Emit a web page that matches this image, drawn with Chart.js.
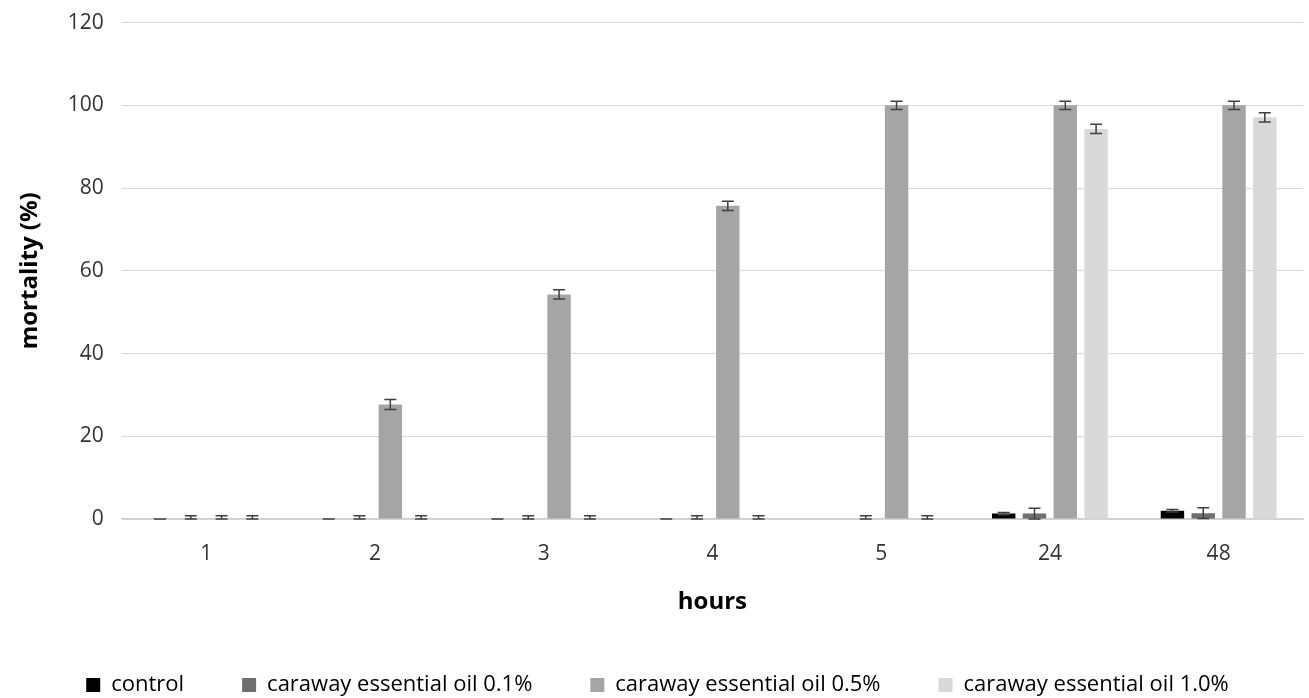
<!DOCTYPE html>
<html lang="en">
<head>
    <meta charset="UTF-8">
    <title>Mortality chart</title>
    <script src="https://cdn.jsdelivr.net/npm/chart.js"></script>
    <style>
        html, body {
            margin: 0;
            padding: 0;
            background: #fff;
            overflow: hidden;
        }
        .chart-container {
            position: relative;
            top: -8px;
            width: 1309px;
            height: 706px;
        }
    </style>
</head>
<body>
    <div class="chart-container">
        <canvas id="mortalityChart"></canvas>
    </div>
    <script>
        // categories (hours)
        const hours = ['1', '2', '3', '4', '5', '24', '48'];

        // series values (mortality %)
        const control = [0, 0, 0, 0, 0, 1.3, 2];
        const oil01 = [0, 0, 0, 0, 0, 1.3, 1.4];
        const oil05 = [0, 27.7, 54.3, 75.7, 100, 100, 100];
        const oil10 = [0, 0, 0, 0, 0, 94.3, 97.1];

        // error bar half-widths
        const controlErr = [0, 0, 0, 0, null, 0.3, 0.3];
        const oil01Err = [0.8, 0.8, 0.8, 0.8, 0.8, 1.3, 1.3];
        const oil05Err = [0.8, 1.2, 1.1, 1.1, 1, 1, 1];
        const oil10Err = [0.8, 0.8, 0.8, 0.8, 0.8, 1.1, 1.1];

        const yTicks = [0, 20, 40, 60, 80, 100, 120];

        // draws the error bars through the y scale
        const errorBars = {
            id: 'errorBars',
            afterDatasetsDraw(chart) {
                const ctx = chart.ctx;
                const y = chart.scales.y;
                ctx.save();
                ctx.strokeStyle = '#404040';
                ctx.lineWidth = 1.5;
                chart.data.datasets.forEach((ds, i) => {
                    const meta = chart.getDatasetMeta(i);
                    meta.data.forEach((bar, j) => {
                        const err = ds.errors[j];
                        if (err === null || err === undefined) return;
                        const v = ds.data[j];
                        const top = y.getPixelForValue(v + err);
                        const bottom = y.getPixelForValue(Math.max(0, v - err));
                        const half = 6;
                        ctx.beginPath();
                        ctx.moveTo(bar.x, top);
                        ctx.lineTo(bar.x, bottom);
                        ctx.moveTo(bar.x - half, top);
                        ctx.lineTo(bar.x + half, top);
                        ctx.moveTo(bar.x - half, bottom);
                        ctx.lineTo(bar.x + half, bottom);
                        ctx.stroke();
                    });
                });
                ctx.restore();
            }
        };

        const ctx = document.getElementById('mortalityChart').getContext('2d');
        new Chart(ctx, {
            type: 'bar',
            data: {
                labels: hours,
                datasets: [
                    { label: 'control', data: control, errors: controlErr, backgroundColor: '#000000' },
                    { label: 'caraway essential oil 0.1%', data: oil01, errors: oil01Err, backgroundColor: '#6f6f6f' },
                    { label: 'caraway essential oil 0.5%', data: oil05, errors: oil05Err, backgroundColor: '#a5a5a5' },
                    { label: 'caraway essential oil 1.0%', data: oil10, errors: oil10Err, backgroundColor: '#d9d9d9' }
                ]
            },
            plugins: [errorBars],
            options: {
                responsive: true,
                maintainAspectRatio: false,
                animation: false,
                layout: {
                    padding: { left: 12, right: 6, top: -6, bottom: -8 }
                },
                datasets: {
                    bar: {
                        categoryPercentage: 0.73,
                        barPercentage: 0.76
                    }
                },
                plugins: {
                    legend: {
                        position: 'bottom',
                        labels: {
                            color: '#000',
                            boxWidth: 14,
                            boxHeight: 14,
                            padding: 58,
                            font: { family: 'Open Sans', size: 22 }
                        }
                    },
                    tooltip: { enabled: false }
                },
                scales: {
                    x: {
                        grid: { display: false, drawTicks: false },
                        border: { color: '#d0d0d0', width: 1.5 },
                        ticks: {
                            color: '#333',
                            padding: 22,
                            font: { family: 'Open Sans', size: 21 }
                        },
                        title: {
                            display: true,
                            text: 'hours',
                            color: '#000',
                            padding: { top: 0, bottom: -1 },
                            font: { family: 'Open Sans', size: 24, weight: 'bold' }
                        }
                    },
                    y: {
                        min: 0,
                        max: 120,
                        afterBuildTicks(axis) {
                            axis.ticks = yTicks.map(v => ({ value: v }));
                        },
                        grid: { color: '#d9d9d9', drawTicks: false },
                        border: { display: false },
                        ticks: {
                            color: '#333',
                            padding: 18,
                            font: { family: 'Open Sans', size: 21 }
                        },
                        title: {
                            display: true,
                            text: 'mortality (%)',
                            color: '#000',
                            padding: { bottom: 5 },
                            font: { family: 'Open Sans', size: 24, weight: 'bold' }
                        }
                    }
                }
            }
        });
    </script>
</body>
</html>
